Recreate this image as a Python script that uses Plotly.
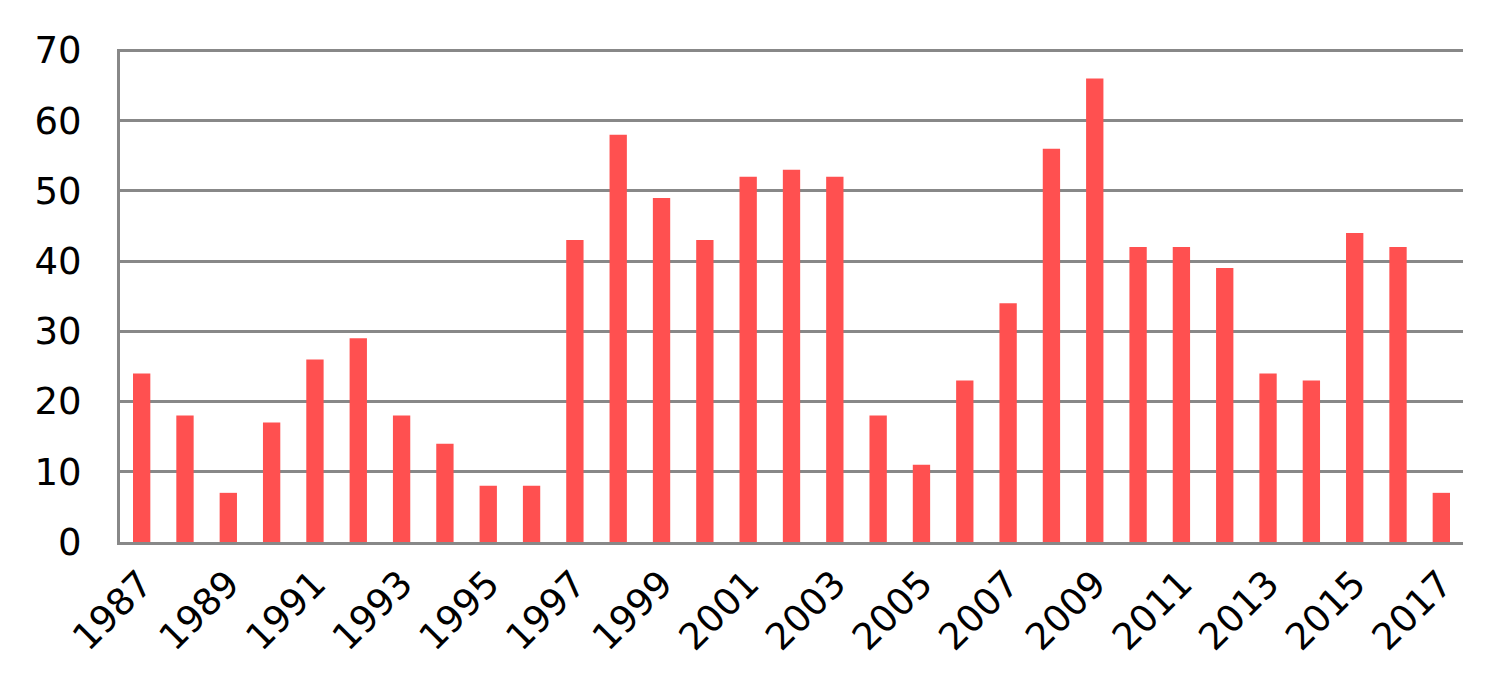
import plotly.graph_objects as go

years = [str(y) for y in range(1987, 2018)]
values = [24, 18, 7, 17, 26, 29, 18, 14, 8, 8, 43, 58, 49, 43, 52, 53, 52,
          18, 11, 23, 34, 56, 66, 42, 42, 39, 24, 23, 44, 42, 7]
tick_labels = [str(y) for y in range(1987, 2018, 2)]
y_ticks = [0, 10, 20, 30, 40, 50, 60, 70]

fig = go.Figure(go.Bar(x=years, y=values, marker=dict(color="#FF5050", line=dict(width=0))))

fig.update_layout(
    width=1495, height=688,
    margin=dict(l=112, r=40, t=41, b=154, autoexpand=False),
    plot_bgcolor="white", paper_bgcolor="white",
    bargap=0.6,
    showlegend=False,
    font=dict(family="DejaVu Sans", size=37, color="black"),
)
fig.update_xaxes(
    type="category", automargin=False,
    tickmode="array", tickvals=tick_labels, ticktext=tick_labels,
    tickangle=-45,
    showline=True, linecolor="#888888", linewidth=3,
    showgrid=False, ticks="", ticklabelstandoff=2,
    tickfont=dict(family="DejaVu Sans", size=37),
)
fig.update_yaxes(
    range=[0, 70.2], tickvals=y_ticks, automargin=False,
    showline=True, linecolor="#888888", linewidth=3,
    showgrid=True, gridcolor="#888888", gridwidth=3,
    zeroline=False, ticks="", ticklabelstandoff=28,
    tickfont=dict(family="DejaVu Sans", size=37),
)

fig.write_html("out.html")
